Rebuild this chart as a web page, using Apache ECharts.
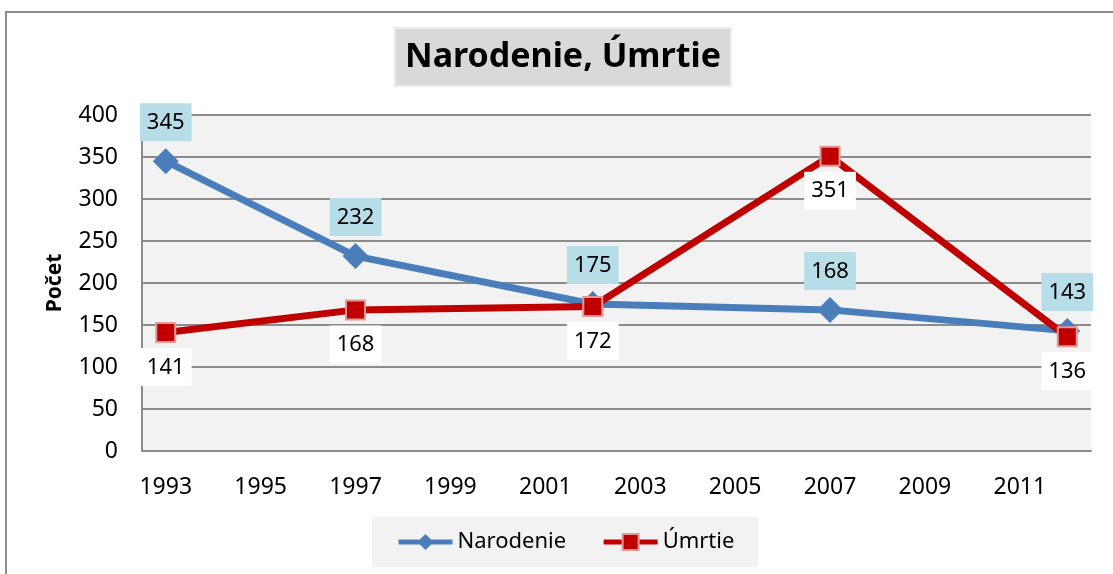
<!DOCTYPE html>
<html>
<head>
<meta charset="utf-8">
<script src="https://cdn.jsdelivr.net/npm/echarts@6/dist/echarts.min.js"></script>
<style>
  html, body { margin: 0; padding: 0; background: #fff; }
  #main { width: 1113px; height: 574px; }
</style>
</head>
<body>
<div id="main"></div>
<script>
// axis years (every year is a slot, labels shown every 2nd)
var axisYears = ['1993','1994','1995','1996','1997','1998','1999','2000','2001','2002',
                 '2003','2004','2005','2006','2007','2008','2009','2010','2011','2012'];
var dataYears = ['1993','1997','2002','2007','2012'];
var narodenie = [345, 232, 175, 168, 143];
var umrtie = [141, 168, 172, 351, 136];
var yTicks = [0, 50, 100, 150, 200, 250, 300, 350, 400];

var FONT = '"Noto Sans", "Open Sans", sans-serif';

function pairs(vals) {
    return dataYears.map(function (y, i) { return [y, vals[i]]; });
}

var chart = echarts.init(document.getElementById('main'));

var option = {
    animation: false,
    backgroundColor: '#fff',
    textStyle: { fontFamily: FONT },
    graphic: [{
        type: 'rect',
        shape: { x: 6, y: 12, width: 1200, height: 700 },
        style: { fill: 'none', stroke: '#8c8c8c', lineWidth: 2 },
        silent: true
    }],
    title: {
        text: 'Narodenie, Úmrtie',
        left: 395,
        top: 28,
        backgroundColor: '#d9d9d9',
        borderColor: '#ececec',
        borderWidth: 2,
        padding: [8, 10, 8, 10],
        textStyle: {
            fontFamily: FONT,
            fontSize: 34,
            fontWeight: 'bold',
            color: '#000',
            lineHeight: 42
        }
    },
    legend: {
        left: 372,
        top: 517,
        backgroundColor: '#f2f2f2',
        padding: [14, 24, 14, 24],
        itemWidth: 54,
        itemHeight: 20,
        itemGap: 35,
        lineStyle: { width: 5 },
        textStyle: { fontFamily: FONT, fontSize: 22, color: '#000' },
        data: ['Narodenie', 'Úmrtie']
    },
    grid: {
        left: 142,
        right: 22,
        top: 115,
        bottom: 123,
        show: true,
        backgroundColor: '#f2f2f2',
        borderWidth: 0
    },
    xAxis: {
        type: 'category',
        data: axisYears,
        boundaryGap: true,
        axisLine: { lineStyle: { color: '#8c8c8c', width: 2 } },
        axisTick: { show: false },
        axisLabel: {
            interval: 1,
            margin: 25,
            fontFamily: FONT,
            fontSize: 23,
            color: '#000'
        },
        splitLine: { show: false }
    },
    yAxis: {
        type: 'value',
        min: yTicks[0],
        max: yTicks[yTicks.length - 1],
        interval: 50,
        name: 'Počet',
        nameLocation: 'middle',
        nameGap: 76,
        nameTextStyle: { fontFamily: FONT, fontSize: 21, fontWeight: 'bold', color: '#000' },
        axisLine: { show: true, lineStyle: { color: '#8c8c8c', width: 2 } },
        axisTick: { show: false },
        axisLabel: { margin: 24, fontFamily: FONT, fontSize: 23, color: '#000' },
        splitLine: { lineStyle: { color: '#8c8c8c', width: 2 } }
    },
    series: [
        {
            name: 'Narodenie',
            type: 'line',
            data: pairs(narodenie),
            symbol: 'diamond',
            symbolSize: 26,
            lineStyle: { color: '#4a7ebb', width: 7 },
            itemStyle: { color: '#4a7ebb' },
            label: {
                show: true,
                position: 'top',
                distance: 7,
                fontFamily: FONT,
                fontSize: 22,
                color: '#000',
                backgroundColor: '#b7dde8',
                padding: [6, 7, 5, 7],
                lineHeight: 27
            },
            z: 2
        },
        {
            name: 'Úmrtie',
            type: 'line',
            data: pairs(umrtie),
            symbol: 'rect',
            symbolSize: 19,
            lineStyle: { color: '#c00000', width: 7 },
            itemStyle: { color: '#c00000', borderColor: '#e09a9a', borderWidth: 2 },
            label: {
                show: true,
                position: 'bottom',
                distance: 5,
                fontFamily: FONT,
                fontSize: 22,
                color: '#000',
                backgroundColor: '#ffffff',
                padding: [6, 7, 5, 7],
                lineHeight: 27
            },
            z: 3
        }
    ]
};

chart.setOption(option);
</script>
</body>
</html>
